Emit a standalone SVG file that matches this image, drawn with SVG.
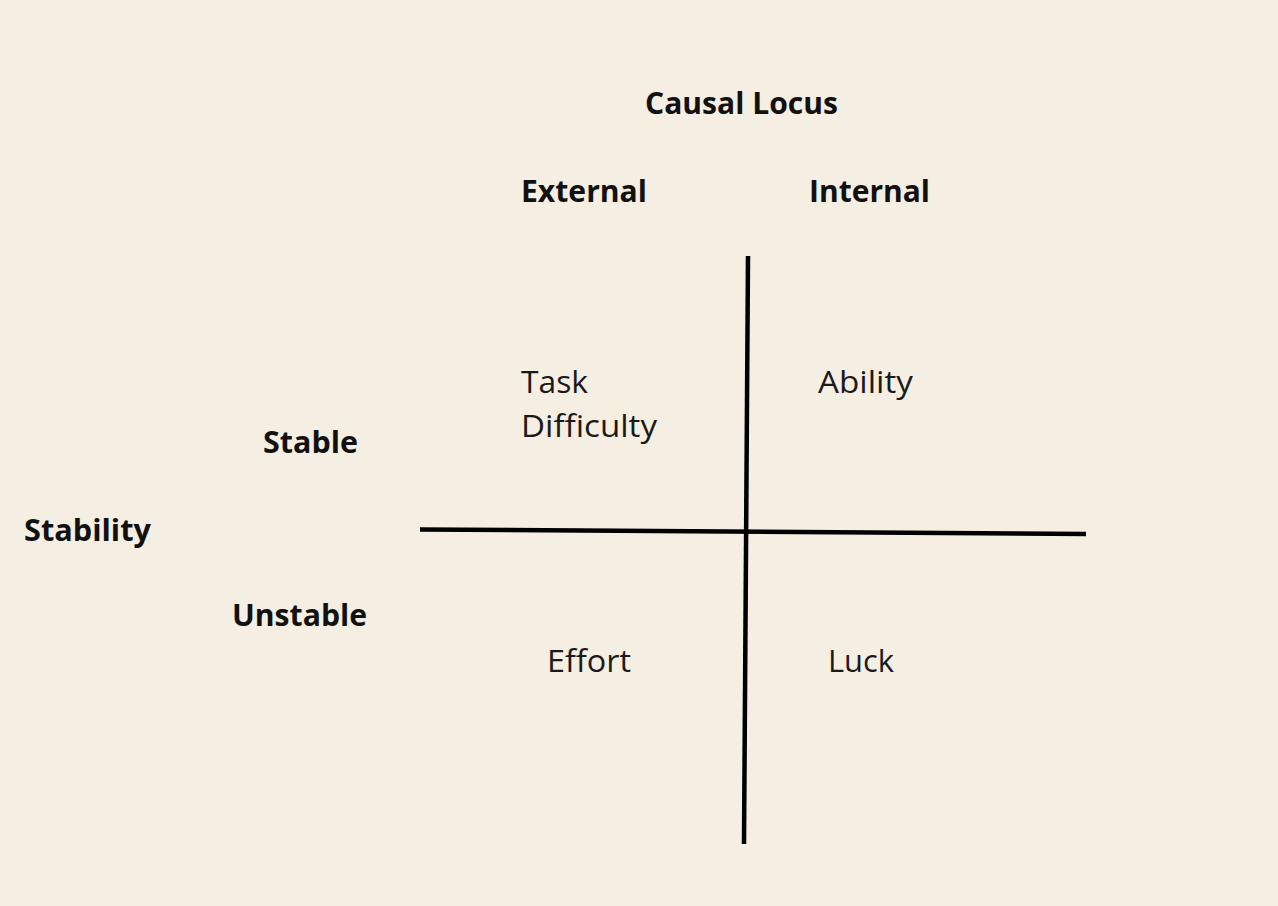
<svg xmlns="http://www.w3.org/2000/svg" width="1278" height="906" viewBox="0 0 1278 906">
<style>
text{font-family:"Open Sans","Noto Sans","Liberation Sans",sans-serif;font-size:31px;fill:#1a1a1a}
.b{font-weight:bold;fill:#111}
.ax{stroke:#000;stroke-width:4.5;fill:none;stroke-linecap:butt}
</style>
<rect width="1278" height="906" fill="#F5EEE2"/>
<g id="connectors">
<line class="ax" x1="748" y1="256" x2="744" y2="844"/>
<line class="ax" x1="420" y1="529.5" x2="1086" y2="534"/>
</g>
<g id="title"><text class="b" x="645" y="114" textLength="193" lengthAdjust="spacingAndGlyphs">Causal Locus</text></g>
<g id="external"><text class="b" x="521" y="202" textLength="126" lengthAdjust="spacingAndGlyphs">External</text></g>
<g id="internal"><text class="b" x="809" y="202" textLength="121" lengthAdjust="spacingAndGlyphs">Internal</text></g>
<g id="stability"><text class="b" x="24" y="541" textLength="127" lengthAdjust="spacingAndGlyphs">Stability</text></g>
<g id="stable"><text class="b" x="263" y="453" textLength="95" lengthAdjust="spacingAndGlyphs">Stable</text></g>
<g id="unstable"><text class="b" x="232" y="626" textLength="135" lengthAdjust="spacingAndGlyphs">Unstable</text></g>
<g id="task-difficulty">
<text x="521" y="393" textLength="67" lengthAdjust="spacingAndGlyphs">Task</text>
<text x="521" y="437" textLength="136" lengthAdjust="spacingAndGlyphs">Difficulty</text>
</g>
<g id="ability"><text x="818" y="393" textLength="95" lengthAdjust="spacingAndGlyphs">Ability</text></g>
<g id="effort"><text x="547" y="672" textLength="84" lengthAdjust="spacingAndGlyphs">Effort</text></g>
<g id="luck"><text x="828" y="672" textLength="66" lengthAdjust="spacingAndGlyphs">Luck</text></g>
</svg>
